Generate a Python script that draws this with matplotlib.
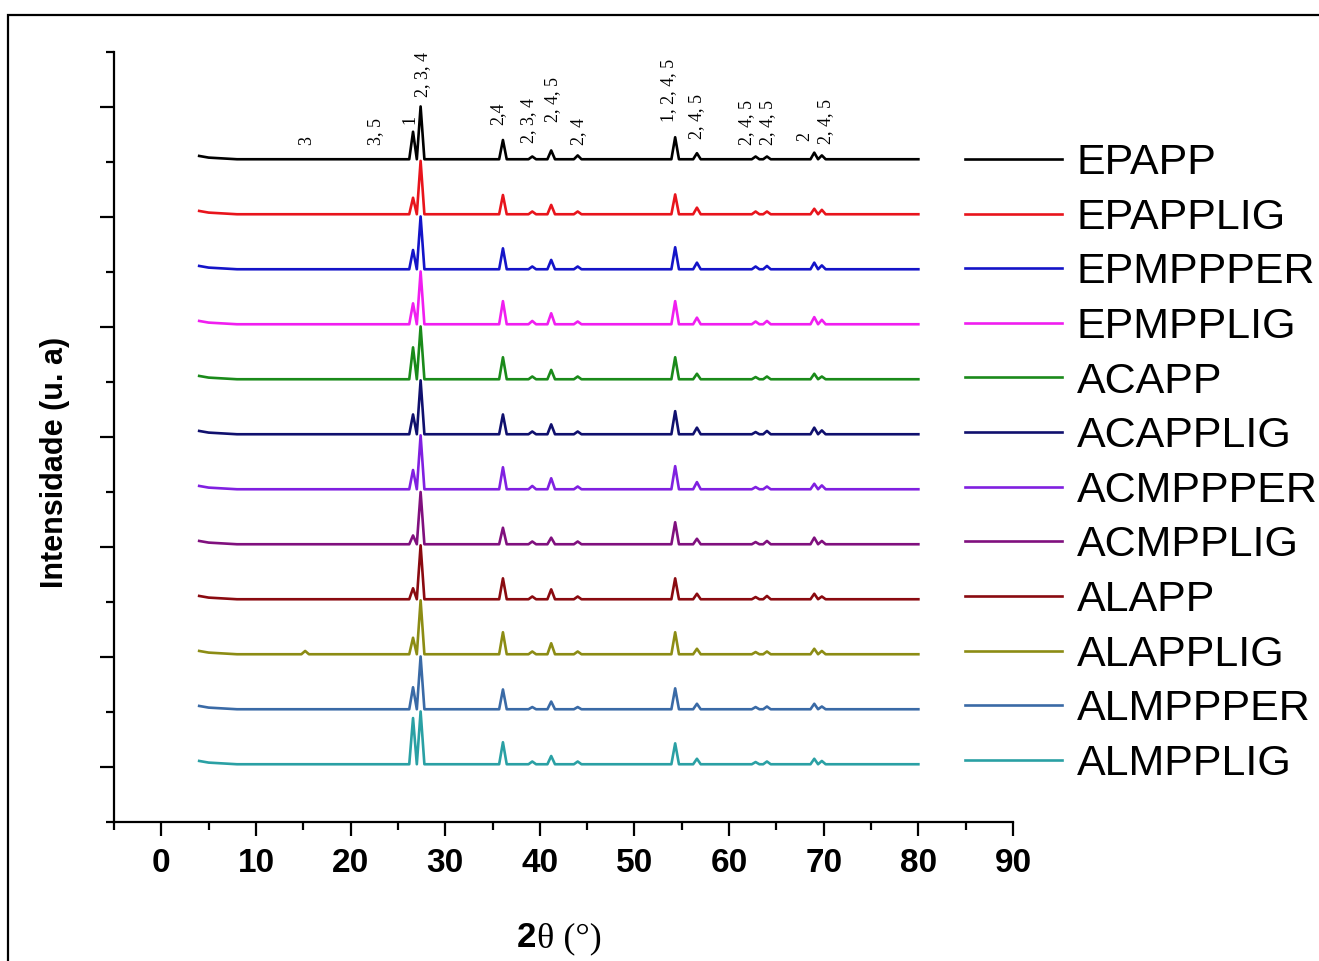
import numpy as np
import matplotlib
matplotlib.use("Agg")
import matplotlib.pyplot as plt
from matplotlib.patches import Rectangle

# sample names, top to bottom
samples = ["EPAPP", "EPAPPLIG", "EPMPPPER", "EPMPPLIG", "ACAPP", "ACAPPLIG",
           "ACMPPPER", "ACMPPLIG", "ALAPP", "ALAPPLIG", "ALMPPPER", "ALMPPLIG"]
colors = ["#000000", "#e8141c", "#1414c8", "#f01ef0", "#1a8a1a", "#10106e",
          "#8020e0", "#80107e", "#8a0a10", "#8c8c14", "#3a6aa6", "#2aa0a4"]

# peak positions (2theta, deg) and heights per sample (u.a.)
peak_pos = [15.2, 26.6, 27.4, 36.1, 39.2, 41.2, 44.0, 54.3, 56.6, 62.8, 64.0, 69.0, 69.8]
peak_h = [
    [0.00, 0.50, 0.96, 0.35, 0.05, 0.16, 0.07, 0.40, 0.11, 0.05, 0.05, 0.12, 0.07],  # EPAPP
    [0.00, 0.30, 0.97, 0.35, 0.05, 0.17, 0.05, 0.36, 0.12, 0.05, 0.05, 0.10, 0.08],  # EPAPPLIG
    [0.00, 0.35, 0.96, 0.38, 0.05, 0.17, 0.05, 0.40, 0.12, 0.05, 0.06, 0.12, 0.07],  # EPMPPPER
    [0.00, 0.38, 0.96, 0.42, 0.06, 0.20, 0.05, 0.42, 0.12, 0.05, 0.06, 0.13, 0.08],  # EPMPPLIG
    [0.00, 0.58, 0.96, 0.40, 0.05, 0.17, 0.05, 0.40, 0.10, 0.04, 0.05, 0.10, 0.05],  # ACAPP
    [0.00, 0.36, 0.98, 0.36, 0.05, 0.18, 0.05, 0.42, 0.12, 0.04, 0.06, 0.12, 0.07],  # ACAPPLIG
    [0.00, 0.35, 0.98, 0.40, 0.06, 0.20, 0.05, 0.42, 0.13, 0.04, 0.05, 0.10, 0.07],  # ACMPPPER
    [0.00, 0.16, 0.95, 0.30, 0.05, 0.12, 0.05, 0.40, 0.10, 0.04, 0.06, 0.12, 0.06],  # ACMPPLIG
    [0.00, 0.20, 0.98, 0.38, 0.05, 0.18, 0.05, 0.38, 0.10, 0.04, 0.06, 0.10, 0.05],  # ALAPP
    [0.06, 0.30, 0.98, 0.40, 0.05, 0.20, 0.05, 0.40, 0.10, 0.04, 0.05, 0.10, 0.06],  # ALAPPLIG
    [0.00, 0.40, 0.96, 0.36, 0.04, 0.14, 0.04, 0.38, 0.10, 0.04, 0.05, 0.10, 0.05],  # ALMPPPER
    [0.00, 0.84, 0.96, 0.40, 0.05, 0.15, 0.05, 0.38, 0.10, 0.04, 0.05, 0.10, 0.06],  # ALMPPLIG
]
# background points (start slightly raised at low angle)
bg_x = [4.0, 5.0, 8.0, 80.0]
bg_y = [0.06, 0.03, 0.0, 0.0]
half_width = 0.4
x_start, x_end = 4.0, 80.0

# phase labels above the top pattern
ann_text = ["3", "3, 5", "1", "2, 3, 4", "2,4", "2, 3, 4", "2, 4, 5", "2, 4",
            "1, 2, 4, 5", "2, 4, 5", "2, 4, 5", "2, 4, 5", "2", "2, 4, 5"]
ann_x = [15.4, 22.6, 26.3, 27.6, 35.6, 38.8, 41.4, 44.1, 53.6, 56.6, 61.8, 64.1, 68.0, 70.2]
ann_y = [12.31, 12.31, 12.69, 13.18, 12.67, 12.35, 12.73, 12.31, 12.73, 12.42, 12.31, 12.31, 12.38, 12.33]

sans = "Liberation Sans"
serif = "Liberation Serif"

fig = plt.figure(figsize=(13.19, 9.61), dpi=100)
ax = fig.add_axes([114 / 1319, 1 - 822 / 961, (1013 - 114) / 1319, (822 - 52) / 961])

n = len(samples)
for i, (name, col, heights) in enumerate(zip(samples, colors, peak_h)):
    offset = 1.05 + (n - 1 - i)
    xs = list(bg_x)
    ys = [0.0] * len(bg_x)
    for p, h in zip(peak_pos, heights):
        if h <= 0:
            continue
        xs += [p - half_width, p, p + half_width]
        ys += [0.0, h, 0.0]
    xs = np.array(xs)
    ys = np.array(ys)
    order = np.argsort(xs, kind="stable")
    xs, ys = xs[order], ys[order]
    ys = ys + np.interp(xs, bg_x, bg_y)
    ax.plot(xs, ys + offset, color=col, lw=1.9, label=name)

for t, x, y in zip(ann_text, ann_x, ann_y):
    ax.text(x, y, t, rotation=90, ha="center", va="bottom",
            fontsize=13, family=serif)

ax.set_xlim(-5, 90)
ax.set_ylim(0, 14)
ax.set_xticks(np.arange(0, 91, 10))
ax.set_xticks(np.arange(-5, 90, 10), minor=True)
ax.set_yticks(np.arange(1, 14, 2))
ax.set_yticks(np.arange(0, 15, 2), minor=True)
ax.set_yticklabels([])
ax.spines["top"].set_visible(False)
ax.spines["right"].set_visible(False)
for s in ["left", "bottom"]:
    ax.spines[s].set_linewidth(1.6)
ax.tick_params(axis="both", which="major", direction="out", length=10, width=1.6)
ax.tick_params(axis="both", which="minor", direction="out", length=6, width=1.6)
ax.tick_params(axis="x", pad=9)
for lbl in ax.get_xticklabels():
    lbl.set_fontfamily(sans)
    lbl.set_fontweight("bold")
    lbl.set_fontsize(24)

leg = ax.legend(loc="upper left", bbox_to_anchor=(965 / 1319, 1 - 143 / 961),
                bbox_transform=fig.transFigure, frameon=False,
                prop={"family": sans, "size": 31}, handlelength=2.25,
                handletextpad=0.35, labelspacing=0.34, borderpad=0,
                borderaxespad=0)
for line in leg.get_lines():
    line.set_linewidth(1.9)

# axis labels
fig.text(55 / 1319, 1 - 462 / 961, "Intensidade (u. a)", rotation=90,
         ha="center", va="center", fontsize=22, fontweight="bold", family=sans)
fig.text(536 / 1319, 1 - 947 / 961, "2", ha="right", va="baseline",
         fontsize=25, fontweight="bold", family=sans)
fig.text(537 / 1319, 1 - 947 / 961, "\u03b8 (\u00b0)", ha="left", va="baseline",
         fontsize=26, family=serif)

# outer frame
fig.patches.append(Rectangle((8 / 1319, -0.1), 1.2, 1.1 - 15 / 961,
                             transform=fig.transFigure, fill=False,
                             lw=1.6, edgecolor="black"))

fig.savefig("out.png", dpi=100)
